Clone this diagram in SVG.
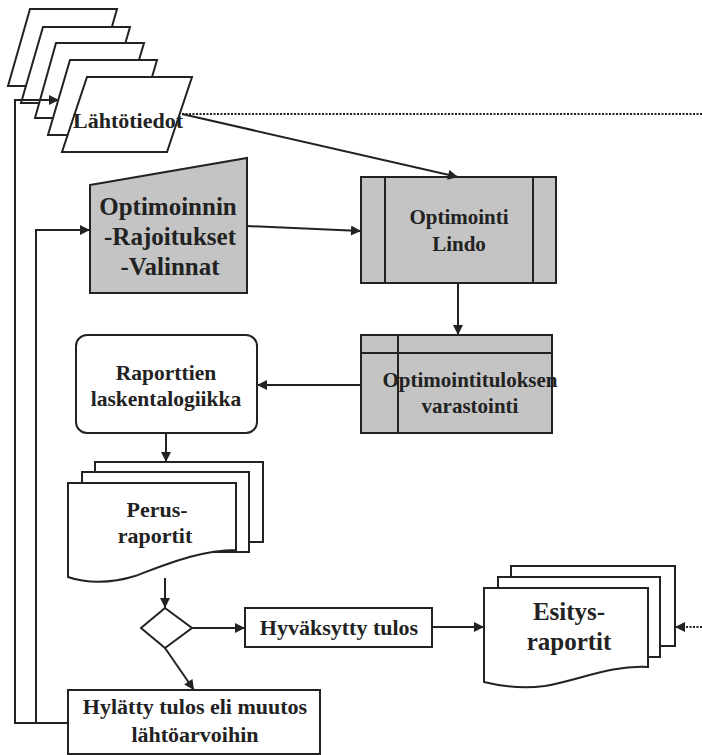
<svg xmlns="http://www.w3.org/2000/svg" width="702" height="755" viewBox="0 0 702 755">
<style>
.s{fill:none;stroke:#222;stroke-width:2}
.w{fill:#fff;stroke:#222;stroke-width:2}
.g{fill:#c4c4c4;stroke:#222;stroke-width:2}
.t{font-family:"Liberation Serif",serif;font-weight:bold;fill:#222;text-anchor:middle}
.d{fill:none;stroke:#222;stroke-width:2;stroke-dasharray:2 1.5}
</style>
<defs>
<marker id="a" viewBox="0 0 10 10" refX="10" refY="5" markerWidth="11" markerHeight="10" markerUnits="userSpaceOnUse" orient="auto"><path d="M0,0 L10,5 L0,10 Z" fill="#222"/></marker>
</defs>
<g id="lahtotiedot">
<path class="w" d="M30,9 H117 L95,86 H8 Z"/>
<path class="w" d="M43,27 H130 L108,103 H21 Z"/>
<path class="w" d="M56,43 H144 L122,118 H35 Z"/>
<path class="w" d="M70,60 H157 L135,135 H48 Z"/>
<path class="w" d="M87,77 H192 L167,152 H62 Z"/>
<text class="t" x="128" y="128" font-size="22">Lähtötiedot</text>
</g>
<g id="optimoinnin">
<path class="g" d="M90,185 L247,158 V293 H90 Z"/>
<text class="t" x="168" y="215" font-size="25">Optimoinnin</text>
<text class="t" x="170" y="245" font-size="25">-Rajoitukset</text>
<text class="t" x="170" y="275" font-size="25">-Valinnat</text>
</g>
<g id="optimointi">
<rect class="g" x="361" y="177" width="195" height="106"/>
<line class="s" x1="385" y1="177" x2="385" y2="283"/>
<line class="s" x1="533" y1="177" x2="533" y2="283"/>
<text class="t" x="459" y="224" font-size="21">Optimointi</text>
<text class="t" x="459" y="251" font-size="21">Lindo</text>
</g>
<g id="varastointi">
<rect class="g" x="361" y="335" width="191" height="98"/>
<line class="s" x1="361" y1="353" x2="552" y2="353"/>
<line class="s" x1="398" y1="335" x2="398" y2="433"/>
<text class="t" x="470" y="387" font-size="21">Optimointituloksen</text>
<text class="t" x="470" y="413" font-size="21">varastointi</text>
</g>
<g id="raporttien">
<rect class="w" x="76" y="335" width="181" height="98" rx="11"/>
<text class="t" x="166" y="380" font-size="21.5">Raporttien</text>
<text class="t" x="166" y="406" font-size="21.5">laskentalogiikka</text>
</g>
<g id="perusraportit">
<rect class="w" x="95" y="462" width="168" height="80"/>
<rect class="w" x="82" y="472" width="167" height="80"/>
<path class="w" d="M68,483 H236 V550 C200,550 165,565 135,576 C110,584 85,583 68,577 Z"/>
<text class="t" x="157" y="517" font-size="22">Perus-</text>
<text class="t" x="155" y="543" font-size="22">raportit</text>
</g>
<g id="paatos">
<path class="w" d="M165,608 L192,628 L165,648 L141,628 Z"/>
</g>
<g id="hyvaksytty">
<rect class="w" x="245" y="608" width="187" height="39"/>
<text class="t" x="339" y="635" font-size="22">Hyväksytty tulos</text>
</g>
<g id="hylatty">
<rect class="w" x="68" y="690" width="252" height="64"/>
<text class="t" x="195" y="714" font-size="22">Hylätty tulos eli muutos</text>
<text class="t" x="195" y="742" font-size="22">lähtöarvoihin</text>
</g>
<g id="esitysraportit">
<rect class="w" x="511" y="566" width="164" height="80"/>
<rect class="w" x="498" y="577" width="162" height="80"/>
<path class="w" d="M484,588 H648 V667 C610,665 580,680 545,686 C520,689 500,686 484,682 Z"/>
<text class="t" x="569" y="620" font-size="25">Esitys-</text>
<text class="t" x="569" y="650" font-size="25">raportit</text>
</g>
<g id="connectors">
<line class="d" x1="182" y1="114" x2="702" y2="114"/>
<line class="s" x1="182" y1="114" x2="458" y2="177" marker-end="url(#a)"/>
<line class="s" x1="247" y1="226" x2="361" y2="231" marker-end="url(#a)"/>
<line class="s" x1="458" y1="283" x2="458" y2="335" marker-end="url(#a)"/>
<line class="s" x1="361" y1="385" x2="257" y2="385" marker-end="url(#a)"/>
<line class="s" x1="166" y1="433" x2="166" y2="462" marker-end="url(#a)"/>
<line class="s" x1="165" y1="578" x2="165" y2="608" marker-end="url(#a)"/>
<line class="s" x1="192" y1="628" x2="245" y2="628" marker-end="url(#a)"/>
<line class="s" x1="165" y1="648" x2="194" y2="690" marker-end="url(#a)"/>
<line class="s" x1="432" y1="627" x2="484" y2="627" marker-end="url(#a)"/>
<line class="d" x1="702" y1="627" x2="675" y2="627" marker-end="url(#a)"/>
<path class="s" d="M68,723 H15 V100 H59" marker-end="url(#a)"/>
<path class="s" d="M36,723 V230 H90" marker-end="url(#a)"/>
</g>
</svg>
